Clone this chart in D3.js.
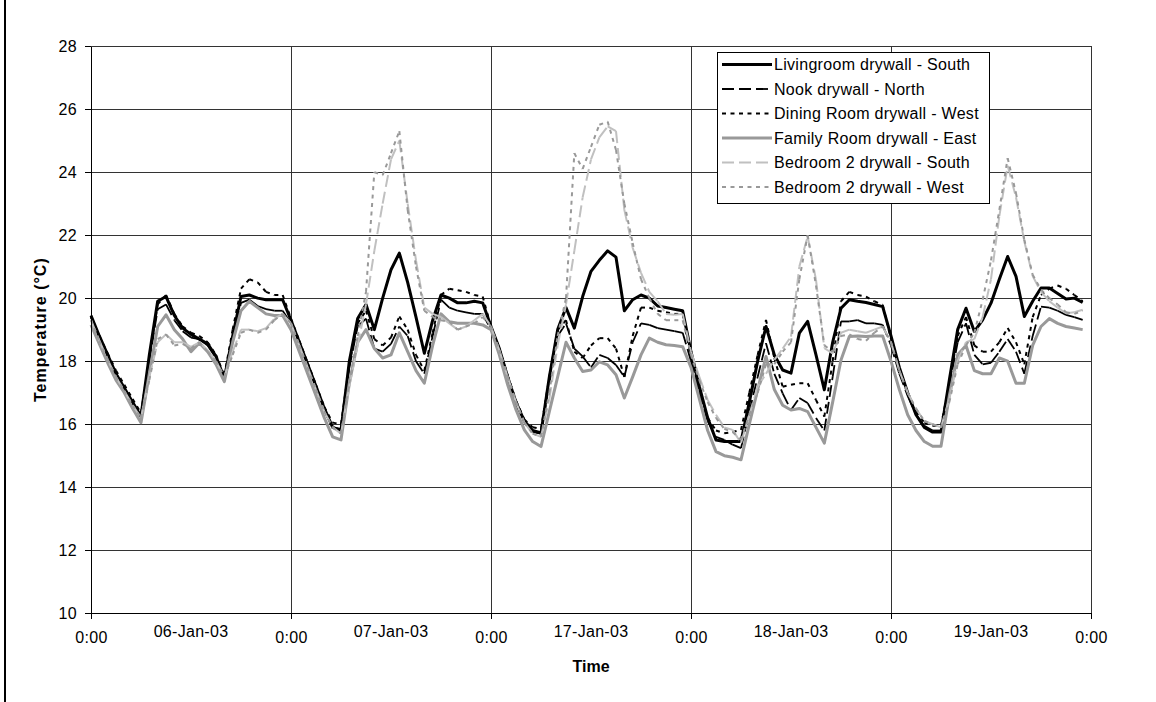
<!DOCTYPE html>
<html>
<head>
<meta charset="utf-8">
<script src="https://cdn.jsdelivr.net/npm/d3@7"></script>
<style>
  body { margin: 0; background: #fff; }
  svg { display: block; font-family: "Liberation Sans", Arial, sans-serif; }
</style>
</head>
<body>
<div id="wrapper"></div>
<script>
// hourly readings, 24 per day, five days
const dayLabels = ["06-Jan-03", "07-Jan-03", "17-Jan-03", "18-Jan-03", "19-Jan-03"]
const yTicks = [10, 12, 14, 16, 18, 20, 22, 24, 26, 28]

const livingroom = [
  19.45, 18.8, 18.2, 17.6, 17.15, 16.7, 16.25, 18.2, 19.9, 20.05, 19.45, 19.05, 18.85, 18.7, 18.55, 18.15, 17.46, 18.8, 20.05, 20.1, 20.0, 19.95, 19.95, 19.95,
  19.3, 18.6, 17.9, 17.2, 16.5, 15.9, 15.8, 18.0, 19.35, 19.8, 19.0, 20.0, 20.9, 21.43, 20.5, 19.4, 18.25, 19.3, 20.1, 20.0, 19.85, 19.85, 19.9, 19.85,
  19.1, 18.4, 17.5, 16.7, 16.1, 15.8, 15.72, 17.5, 19.0, 19.7, 19.05, 20.05, 20.85, 21.2, 21.5, 21.3, 19.6, 19.95, 20.1, 20.0, 19.75, 19.7, 19.65, 19.6,
  18.3, 17.2, 16.2, 15.5, 15.45, 15.45, 15.45, 16.7, 18.0, 19.1, 18.2, 17.72, 17.62, 18.89, 19.26, 18.2, 17.09, 18.6, 19.68, 19.95, 19.9, 19.86, 19.8, 19.73,
  18.8, 17.8, 17.0, 16.3, 15.9, 15.75, 15.75, 17.4, 19.0, 19.68, 18.94, 19.31, 19.84, 20.6, 21.32, 20.69, 19.42, 19.9, 20.32, 20.32, 20.15, 19.97, 20.0, 19.86
]
const nook = [
  19.4, 18.75, 18.15, 17.6, 17.1, 16.65, 16.2, 18.0, 19.65, 19.8, 19.3, 18.95, 18.75, 18.7, 18.5, 18.1, 17.45, 18.7, 19.85, 19.95, 19.75, 19.65, 19.6, 19.6,
  19.2, 18.5, 17.8, 17.1, 16.4, 15.9, 15.85, 17.8, 19.1, 19.35, 18.4, 18.3, 18.55, 19.1, 18.8, 18.0, 17.6, 18.8, 19.95, 19.7, 19.6, 19.55, 19.5, 19.5,
  19.0, 18.3, 17.45, 16.65, 16.05, 15.75, 15.7, 17.3, 18.8, 19.2, 18.4, 18.15, 17.8, 18.2, 18.1, 17.88, 17.5, 18.6, 19.2, 19.15, 19.05, 19.0, 18.95, 18.9,
  18.0, 17.0, 16.1, 15.6, 15.5, 15.35, 15.24, 16.4, 17.5, 18.57, 17.6, 16.98, 16.45, 16.83, 16.67, 16.2, 15.8, 17.5, 19.26, 19.26, 19.3, 19.2, 19.2, 19.15,
  18.5, 17.6, 16.9, 16.3, 15.95, 15.8, 15.8, 17.2, 18.6, 19.2, 18.2, 17.9, 17.95, 18.3, 18.7, 18.3, 17.6, 18.8, 19.73, 19.7, 19.6, 19.47, 19.4, 19.31
]
const dining = [
  19.4, 18.8, 18.25, 17.7, 17.25, 16.8, 16.35, 18.1, 19.8, 20.1, 19.5, 19.1, 18.9, 18.8, 18.6, 18.2, 17.55, 19.0, 20.3, 20.6, 20.5, 20.2, 20.1, 20.1,
  19.35, 18.65, 17.95, 17.25, 16.55, 16.05, 16.0, 17.9, 19.2, 19.6, 18.7, 18.5, 18.75, 19.42, 19.0, 18.2, 17.7, 18.9, 20.1, 20.3, 20.25, 20.2, 20.1, 20.05,
  19.1, 18.4, 17.55, 16.75, 16.15, 15.9, 15.85, 17.5, 19.0, 19.3, 18.3, 18.1, 18.5, 18.73, 18.73, 18.4, 17.5, 18.8, 19.7, 19.7, 19.6, 19.55, 19.5, 19.5,
  18.1, 17.1, 16.2, 15.8, 15.71, 15.75, 15.82, 17.0, 18.2, 19.31, 18.1, 17.19, 17.25, 17.3, 17.3, 16.77, 16.24, 18.0, 19.9, 20.2, 20.1, 20.05, 19.9, 19.79,
  18.7, 17.7, 17.0, 16.4, 16.05, 15.95, 15.95, 17.3, 18.8, 19.4, 18.5, 18.3, 18.3, 18.6, 19.05, 18.6, 17.9, 19.4, 20.1, 20.3, 20.4, 20.3, 20.1, 19.9
]
const family = [
  19.15, 18.55, 17.95, 17.4, 17.0, 16.5, 16.05, 17.6, 19.1, 19.47, 19.0, 18.7, 18.3, 18.58, 18.3, 17.9, 17.35, 18.6, 19.6, 19.9, 19.7, 19.5, 19.45, 19.45,
  19.0, 18.3, 17.6, 16.9, 16.2, 15.6, 15.5, 17.3, 18.6, 19.0, 18.4, 18.1, 18.2, 18.9, 18.3, 17.7, 17.3, 18.5, 19.5, 19.25, 19.2, 19.2, 19.2, 19.15,
  19.0, 18.2, 17.25, 16.46, 15.82, 15.45, 15.29, 16.4, 17.5, 18.6, 18.1, 17.67, 17.72, 17.98, 17.88, 17.57, 16.83, 17.5, 18.2, 18.73, 18.6, 18.52, 18.5, 18.46,
  17.8, 16.8, 15.8, 15.13, 15.0, 14.95, 14.87, 16.0, 17.1, 18.15, 17.1, 16.6, 16.45, 16.5, 16.4, 15.9, 15.4, 16.7, 18.04, 18.78, 18.8, 18.78, 18.8, 18.8,
  18.0, 17.1, 16.3, 15.8, 15.45, 15.3, 15.3, 16.9, 18.2, 18.5, 17.7, 17.6, 17.6, 18.1, 18.0, 17.3, 17.3, 18.5, 19.1, 19.35, 19.2, 19.1, 19.05, 19.0
]
const bedSouth = [
  19.3, 18.65, 18.05, 17.5, 17.05, 16.6, 16.2, 17.5, 18.6, 18.85, 18.6, 18.6, 18.45, 18.6, 18.35, 18.0, 17.5, 18.3, 19.0, 19.0, 18.95, 19.05, 19.35, 19.5,
  19.2, 18.5, 17.8, 17.1, 16.4, 15.9, 15.7, 17.2, 18.5, 19.8, 21.5, 23.0, 24.4, 25.0, 23.0, 21.2, 19.7, 19.5, 19.4, 19.2, 19.0, 19.1, 19.3, 19.5,
  19.1, 18.35, 17.5, 16.7, 16.05, 15.7, 15.6, 16.8, 18.5, 19.8, 21.5, 23.2, 24.4, 25.1, 25.45, 25.3, 22.8, 21.6, 20.8, 20.2, 19.9, 19.5, 19.47, 19.5,
  18.3, 17.5, 16.77, 16.3, 15.9, 15.82, 15.4, 16.3, 17.19, 17.6, 18.04, 18.4, 18.78, 21.0, 21.96, 20.58, 18.41, 18.25, 18.9, 19.0, 18.95, 18.9, 19.0, 19.1,
  18.6, 17.7, 17.0, 16.5, 16.1, 16.0, 15.9, 16.8, 18.0, 18.6, 18.7, 19.4, 20.6, 22.6, 24.2, 23.2, 21.8, 20.7, 20.2, 19.9, 19.7, 19.52, 19.55, 19.63
]
const bedWest = [
  19.3, 18.65, 18.05, 17.5, 17.05, 16.6, 16.2, 17.4, 18.7, 18.85, 18.5, 18.55, 18.4, 18.6, 18.3, 18.0, 17.5, 18.2, 18.9, 19.0, 18.9, 19.0, 19.3, 19.5,
  19.2, 18.5, 17.8, 17.1, 16.4, 15.9, 15.7, 17.3, 18.8, 20.2, 24.0, 23.9, 24.6, 25.3, 22.8, 21.0, 19.6, 19.4, 19.3, 19.25, 19.0, 19.1, 19.2, 19.4,
  19.1, 18.35, 17.5, 16.7, 16.05, 15.7, 15.6, 17.0, 18.8, 20.0, 24.6, 24.1, 24.8, 25.5, 25.6, 24.7, 23.0, 21.75, 20.6, 20.0, 19.5, 19.3, 19.3, 19.3,
  18.2, 17.4, 16.7, 16.2, 15.85, 15.75, 15.5, 16.3, 17.0, 17.9, 17.9, 18.3, 18.6, 20.6, 22.0, 20.4, 18.5, 18.3, 18.8, 18.85, 18.7, 18.65, 18.9, 19.1,
  18.6, 17.7, 17.0, 16.5, 16.1, 16.0, 15.9, 16.7, 17.9, 18.5, 18.9, 19.95, 21.2, 22.8, 24.44, 23.33, 21.85, 20.74, 20.27, 20.0, 19.8, 19.55, 19.5, 19.6
]

const seriesNames = [
  "Livingroom drywall - South",
  "Nook drywall - North",
  "Dining Room drywall - West",
  "Family Room drywall - East",
  "Bedroom 2 drywall - South",
  "Bedroom 2 drywall - West",
]
const seriesValues = [livingroom, nook, dining, family, bedSouth, bedWest]

// line styles, excel-ish
const styles = [
  { color: "#000", width: 3, dash: null },
  { color: "#000", width: 1.8, dash: "12,5" },
  { color: "#000", width: 2, dash: "4,4.5" },
  { color: "#999", width: 3, dash: null },
  { color: "#c0c0c0", width: 2, dash: "12,5" },
  { color: "#999", width: 2, dash: "4,4.5" },
]

function drawChart() {
  const dms = {
    width: 1156,
    height: 702,
    margin: { top: 46, right: 65, bottom: 88.7, left: 91 },
  }
  dms.boundedWidth = dms.width - dms.margin.left - dms.margin.right
  dms.boundedHeight = dms.height - dms.margin.top - dms.margin.bottom

  const wrapper = d3.select("#wrapper")
    .append("svg")
    .attr("width", dms.width)
    .attr("height", dms.height)

  // frame edge on the left
  wrapper.append("line")
    .attr("x1", 5).attr("x2", 5)
    .attr("y1", 0).attr("y2", dms.height)
    .attr("stroke", "#000")
    .attr("stroke-width", 2)

  const bounds = wrapper.append("g")
    .attr("transform", `translate(${dms.margin.left}, ${dms.margin.top})`)

  const xScale = d3.scaleLinear()
    .domain([0, 120])
    .range([0, dms.boundedWidth])

  const yScale = d3.scaleLinear()
    .domain([10, 28])
    .range([dms.boundedHeight, 0])

  const dayTicks = [0, 24, 48, 72, 96, 120]
  const noonTicks = [12, 36, 60, 84, 108]

  // gridlines
  const grid = bounds.append("g")
    .attr("stroke", "#333")
    .attr("stroke-width", 1)
    .attr("shape-rendering", "crispEdges")
  grid.selectAll(".hgrid")
    .data(yTicks.slice(1))
    .join("line")
    .attr("x1", 0).attr("x2", dms.boundedWidth)
    .attr("y1", d => yScale(d)).attr("y2", d => yScale(d))
  grid.selectAll(".vgrid")
    .data(dayTicks.slice(1))
    .join("line")
    .attr("x1", d => xScale(d)).attr("x2", d => xScale(d))
    .attr("y1", 0).attr("y2", dms.boundedHeight)

  // series
  const lineGen = d3.line()
    .x(d => xScale(d[0]))
    .y(d => yScale(d[1]))

  const lines = bounds.append("g")
  seriesValues.forEach((vals, i) => {
    const st = styles[i]
    const pts = vals.map((v, h) => [h, v])
    if (!st.dash) {
      lines.append("path")
        .attr("d", lineGen(pts))
        .attr("fill", "none")
        .attr("stroke", st.color)
        .attr("stroke-width", st.width)
        .attr("stroke-linejoin", "round")
    } else {
      // excel restarts the dash pattern on every segment
      lines.append("g")
        .selectAll("path")
        .data(d3.pairs(pts))
        .join("path")
        .attr("d", d => lineGen(d))
        .attr("fill", "none")
        .attr("stroke", st.color)
        .attr("stroke-width", st.width)
        .attr("stroke-dasharray", st.dash)
    }
  })

  // axes
  const yAxis = bounds.append("g")
    .call(d3.axisLeft(yScale).tickValues(yTicks).tickSize(6).tickPadding(8).tickSizeOuter(0))
  yAxis.select(".domain").attr("stroke", "#000").attr("shape-rendering", "crispEdges")
  yAxis.selectAll(".tick line").attr("shape-rendering", "crispEdges")
  yAxis.selectAll("text")
    .style("font-size", "16px")
    .style("letter-spacing", "0.3px")
    .attr("fill", "#000")
    .attr("font-family", null)

  const xAxis = bounds.append("g")
    .attr("transform", `translate(0, ${dms.boundedHeight})`)
    .call(d3.axisBottom(xScale).tickValues(dayTicks).tickFormat(() => "0:00").tickSize(6).tickPadding(12.3).tickSizeOuter(0))
  xAxis.select(".domain").attr("stroke", "#000").attr("shape-rendering", "crispEdges")
  xAxis.selectAll(".tick line").attr("shape-rendering", "crispEdges")
  xAxis.selectAll("text")
    .style("font-size", "16px")
    .style("letter-spacing", "0.3px")
    .attr("fill", "#000")
    .attr("font-family", null)

  // date labels sit at noon of each day, a bit higher than the 0:00 ones
  bounds.append("g")
    .attr("transform", `translate(0, ${dms.boundedHeight})`)
    .selectAll("text")
    .data(noonTicks)
    .join("text")
    .attr("x", d => xScale(d))
    .attr("y", 23.7)
    .attr("text-anchor", "middle")
    .attr("fill", "#000")
    .style("font-size", "16px")
    .style("letter-spacing", "0.3px")
    .text((d, i) => dayLabels[i])

  // axis titles
  bounds.append("text")
    .attr("x", dms.boundedWidth / 2)
    .attr("y", dms.boundedHeight + 58.4)
    .attr("text-anchor", "middle")
    .style("font-size", "16px")
    .style("font-weight", "bold")
    .text("Time")

  bounds.append("text")
    .attr("transform", `translate(${-dms.margin.left + 46}, ${dms.boundedHeight / 2}) rotate(-90)`)
    .attr("text-anchor", "middle")
    .style("font-size", "16px")
    .style("font-weight", "bold")
    .style("letter-spacing", "1px")
    .text("Temperature (°C)")

  // legend
  const legend = wrapper.append("g")
    .attr("transform", "translate(717, 52)")
  legend.append("rect")
    .attr("width", 272)
    .attr("height", 151)
    .attr("fill", "#fff")
    .attr("stroke", "#000")
    .attr("shape-rendering", "crispEdges")

  const rows = legend.selectAll(".row")
    .data(seriesNames)
    .join("g")
    .attr("transform", (d, i) => `translate(0, ${12.5 + i * 24.5})`)
  rows.append("line")
    .attr("x1", 5).attr("x2", 55)
    .attr("y1", 0).attr("y2", 0)
    .attr("stroke", (d, i) => styles[i].color)
    .attr("stroke-width", (d, i) => styles[i].width)
    .attr("stroke-dasharray", (d, i) => styles[i].dash)
  rows.append("text")
    .attr("x", 57)
    .attr("y", 5.7)
    .style("font-size", "16px")
    .style("letter-spacing", "0.3px")
    .text(d => d)
}

drawChart()
</script>
</body>
</html>
